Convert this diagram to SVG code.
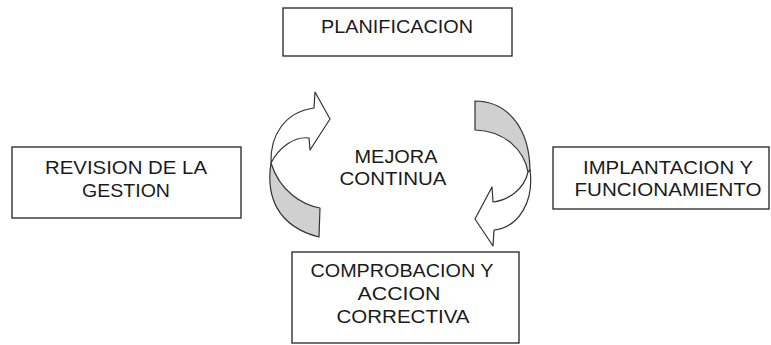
<svg xmlns="http://www.w3.org/2000/svg" width="771" height="345" viewBox="0 0 771 345">
<style>
.box{fill:#fff;stroke:#222;stroke-width:1.3}
.t{font-family:"Liberation Sans",Arial,sans-serif;font-size:18.5px;fill:#1a1a1a;text-anchor:middle}
.arr{stroke:#333;stroke-width:1.2;stroke-linejoin:round}
.w{fill:#fff}
.g{fill:#d0d0d0}
</style>
<rect width="771" height="345" fill="#fff"/>
<g id="planificacion">
<rect class="box" x="283" y="8" width="229" height="48"/>
<text class="t" x="397" y="33" textLength="152" lengthAdjust="spacingAndGlyphs">PLANIFICACION</text>
</g>
<g id="revision">
<rect class="box" x="12" y="147" width="229" height="71"/>
<text class="t" x="126" y="174" textLength="162" lengthAdjust="spacingAndGlyphs">REVISION DE LA</text>
<text class="t" x="126" y="197" textLength="88" lengthAdjust="spacingAndGlyphs">GESTION</text>
</g>
<g id="implantacion">
<rect class="box" x="553" y="147" width="216" height="62"/>
<text class="t" x="668" y="174" textLength="170" lengthAdjust="spacingAndGlyphs">IMPLANTACION Y</text>
<text class="t" x="668" y="196" textLength="187" lengthAdjust="spacingAndGlyphs">FUNCIONAMIENTO</text>
</g>
<g id="comprobacion">
<rect class="box" x="292" y="252" width="227" height="91"/>
<text class="t" x="402" y="277" textLength="183" lengthAdjust="spacingAndGlyphs">COMPROBACION Y</text>
<text class="t" x="399" y="300" textLength="83" lengthAdjust="spacingAndGlyphs">ACCION</text>
<text class="t" x="403" y="323" textLength="133" lengthAdjust="spacingAndGlyphs">CORRECTIVA</text>
</g>
<g id="mejora">
<text class="t" x="396" y="163" textLength="83" lengthAdjust="spacingAndGlyphs">MEJORA</text>
<text class="t" x="393" y="185" textLength="107" lengthAdjust="spacingAndGlyphs">CONTINUA</text>
</g>
<g id="connectors">
<path class="arr g" d="M271,163 C266,195 276,226 319,237 L320,208 C303,205 280,192 271,163 Z"/>
<path class="arr w" d="M271,163 C270,135 285,112 314,108 L315,92 L330,119 L310,150 L309,138 C295,136 279,147 271,163 Z"/>
<path class="arr g" d="M475,101 C505,101 530,125 530,172 L528,172 C524,150 505,131 475,130 Z"/>
<path class="arr w" d="M530,170 C534,200 520,227 494,230 L493,246 L475,219 L492,187 L493,202 C508,200 524,190 528,172 Z"/>
</g>
</svg>
